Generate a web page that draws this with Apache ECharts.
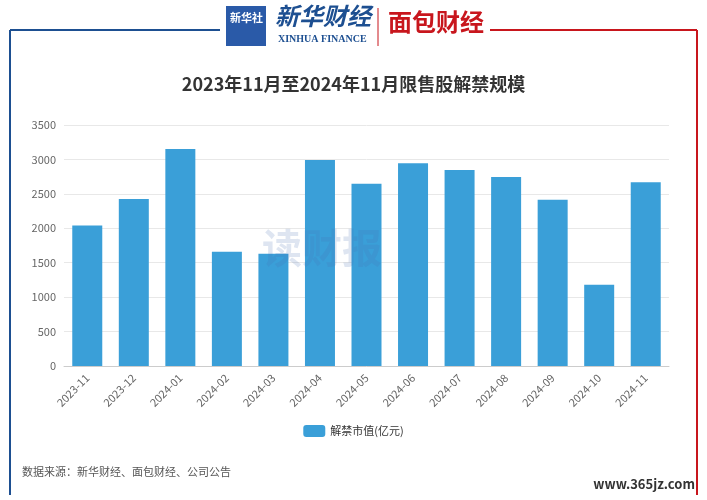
<!DOCTYPE html>
<html><head><meta charset="utf-8">
<script src="https://cdn.jsdelivr.net/npm/echarts@6/dist/echarts.min.js"></script>
<style>html,body{margin:0;padding:0;background:#fff}#main{width:707px;height:500px}</style>
</head><body><div id="main"></div>
<script>
var months = ['2023-11','2023-12','2024-01','2024-02','2024-03','2024-04','2024-05','2024-06','2024-07','2024-08','2024-09','2024-10','2024-11'];
var unlockValues = [2040, 2425, 3150, 1660, 1630, 2990, 2645, 2945, 2845, 2745, 2415, 1180, 2670];
var yTicks = {min: 0, max: 3500, interval: 500};

var myChart = echarts.init(document.getElementById('main'));
var font = '"Noto Sans CJK SC", sans-serif';

var option = {
    animation: false,
    title: {
        text: '2023年11月至2024年11月限售股解禁规模',
        left: 'center', top: 70,
        textStyle: {fontFamily: font, fontSize: 18, fontWeight: 'bold', color: '#333'}
    },
    legend: {
        data: ['解禁市值(亿元)'], bottom: 58, itemWidth: 22, itemHeight: 12,
        textStyle: {fontFamily: font, fontSize: 11, color: '#333'}
    },
    grid: {left: 64, right: 38, top: 125, bottom: 134},
    xAxis: {
        type: 'category', data: months,
        axisLine: {lineStyle: {color: '#ccc'}}, axisTick: {show: false},
        axisLabel: {rotate: 45, color: '#666', fontSize: 11, fontFamily: font, margin: 10}
    },
    yAxis: {
        type: 'value', min: yTicks.min, max: yTicks.max, interval: yTicks.interval,
        axisLine: {show: false}, axisTick: {show: false},
        axisLabel: {color: '#666', fontSize: 11, fontFamily: font, formatter: function (v) { return String(v); }},
        splitLine: {lineStyle: {color: '#e8e8e8'}}
    },
    series: [{
        name: '解禁市值(亿元)', type: 'bar', data: unlockValues, barWidth: 30,
        itemStyle: {color: '#3a9fd8'}
    }],
    graphic: [
        {type: 'line', shape: {x1: 10, y1: 30, x2: 220, y2: 30}, style: {stroke: '#1d4f91', lineWidth: 2}},
        {type: 'line', shape: {x1: 10, y1: 30, x2: 10, y2: 495}, style: {stroke: '#1d4f91', lineWidth: 2}},
        {type: 'line', shape: {x1: 490, y1: 30, x2: 697, y2: 30}, style: {stroke: '#c8161d', lineWidth: 2}},
        {type: 'line', shape: {x1: 697, y1: 30, x2: 697, y2: 495}, style: {stroke: '#c8161d', lineWidth: 2}},
        {type: 'rect', shape: {x: 226, y: 6, width: 40, height: 40}, style: {fill: '#2a5aa8'}},
        {type: 'text', left: 230, top: 12, style: {text: '新华社', fill: '#fff', font: 'bold 11px ' + font}},
        {type: 'text', left: 275, top: 4, style: {text: '新华财经', fill: '#1d4f91', font: 'italic bold 24px ' + font}},
        {type: 'text', left: 278, top: 34, style: {text: 'XINHUA FINANCE', fill: '#1d4f91', font: 'bold 10px serif'}},
        {type: 'line', shape: {x1: 378, y1: 8, x2: 378, y2: 46}, style: {stroke: '#c8161d', lineWidth: 1}},
        {type: 'text', left: 388, top: 10, style: {text: '面包财经', fill: '#c8161d', font: 'bold 24px ' + font}},
        {type: 'text', left: 262, top: 228, z: 100, style: {text: '读财报', fill: 'rgba(70,110,180,0.18)', font: 'bold 40px ' + font}},
        {type: 'text', left: 22, top: 466, style: {text: '数据来源：新华财经、面包财经、公司公告', fill: '#555', font: '11px ' + font}},
        {type: 'text', right: 12, top: 478, style: {text: 'www.365jz.com', fill: '#333', font: 'bold 13px ' + font}}
    ]
};
myChart.setOption(option);
</script></body></html>
